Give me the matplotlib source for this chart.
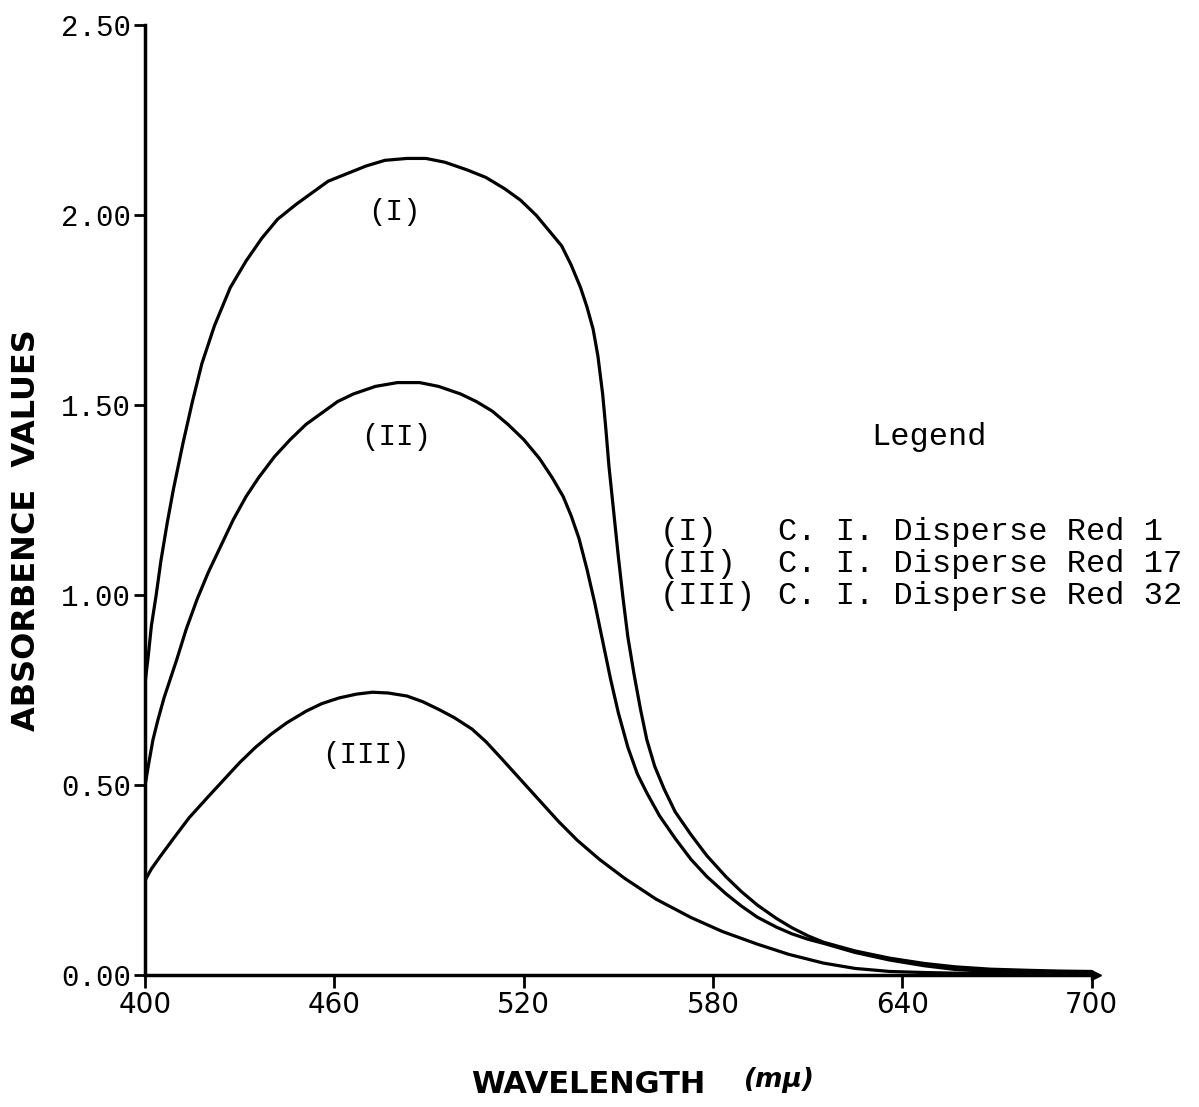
import matplotlib.pyplot as plt

# readings (wavelength in mu, absorbance)
wl_red1 = [400, 401, 402, 403.5, 405, 407, 409, 412, 415, 418, 422, 427, 432, 437,
           442, 448, 453, 458, 464, 470, 476, 483, 489, 495, 502, 508, 514, 519,
           524, 528, 532, 535, 538, 540, 542, 543.5, 545, 546, 547, 548.5, 550,
           551.5, 553, 555, 557, 559, 561.5, 564.5, 568, 573, 578, 584, 589, 594,
           600, 605, 610, 615, 625, 636, 647, 657, 668, 680, 690, 700]
abs_red1 = [0.77, 0.84, 0.92, 1.00, 1.09, 1.19, 1.28, 1.40, 1.51, 1.61, 1.71, 1.81, 1.88, 1.94,
            1.99, 2.03, 2.06, 2.09, 2.11, 2.13, 2.145, 2.15, 2.15, 2.14, 2.12, 2.10, 2.07, 2.04,
            2.00, 1.96, 1.92, 1.87, 1.81, 1.76, 1.70, 1.63, 1.53, 1.44, 1.34, 1.22, 1.10,
            0.99, 0.89, 0.79, 0.70, 0.62, 0.55, 0.49, 0.43, 0.37, 0.315, 0.26, 0.22, 0.185,
            0.15, 0.125, 0.104, 0.087, 0.064, 0.045, 0.031, 0.022, 0.016, 0.013, 0.011, 0.01]

wl_red17 = [400, 401, 402.5, 404, 406, 408, 410, 413, 416.5, 420, 424, 428, 432, 436,
            441, 446, 451, 456, 461, 466, 473, 480, 487, 493, 500, 505, 510, 515,
            520, 525, 529, 532.5, 535, 537.5, 540, 542.5, 545, 547.5, 550, 553, 556,
            559, 563, 568, 573, 578, 584, 589, 594, 600, 605, 610, 615, 625, 636,
            647, 657, 668, 680, 700]
abs_red17 = [0.50, 0.55, 0.62, 0.67, 0.73, 0.78, 0.83, 0.91, 0.99, 1.06, 1.13, 1.20, 1.26, 1.31,
             1.365, 1.41, 1.45, 1.48, 1.51, 1.53, 1.55, 1.56, 1.56, 1.55, 1.53, 1.51, 1.485, 1.45,
             1.41, 1.36, 1.31, 1.26, 1.21, 1.15, 1.07, 0.98, 0.88, 0.78, 0.69, 0.60, 0.53,
             0.48, 0.42, 0.36, 0.305, 0.26, 0.215, 0.182, 0.153, 0.127, 0.109, 0.095, 0.084, 0.06, 0.04,
             0.025, 0.015, 0.01, 0.008, 0.006]

wl_red32 = [400, 402, 405, 409, 414, 420, 425, 430, 435, 440, 445, 451, 456, 461.5,
            467, 472, 477, 483, 488, 493, 498, 503.6, 508, 513, 519, 525, 531, 537,
            544, 552, 562, 573, 583, 594, 604, 615, 625, 636, 648, 660, 700]
abs_red32 = [0.25, 0.28, 0.315, 0.36, 0.415, 0.47, 0.515, 0.56, 0.60, 0.635, 0.665, 0.695, 0.715, 0.73,
             0.74, 0.745, 0.743, 0.735, 0.72, 0.70, 0.678, 0.648, 0.615, 0.57, 0.515, 0.46, 0.405, 0.355,
             0.305, 0.255, 0.2, 0.152, 0.115, 0.082, 0.055, 0.032, 0.018, 0.01, 0.007, 0.005, 0.003]

x_ticks = [400, 460, 520, 580, 640, 700]
y_ticks = [0.0, 0.5, 1.0, 1.5, 2.0, 2.5]
curve_tags = ['(I)', '(II)', '(III)']
dye_names = ['C. I. Disperse Red 1', 'C. I. Disperse Red 17', 'C. I. Disperse Red 32']

mono = 'Liberation Mono'

fig = plt.figure(figsize=(11.99, 11.07), dpi=100)
ax = fig.add_axes([0.121, 0.119, 0.7935, 0.858])

for wl, ab in [(wl_red1, abs_red1), (wl_red17, abs_red17), (wl_red32, abs_red32)]:
    ax.plot(wl, ab, color='black', lw=2.3, solid_capstyle='round', solid_joinstyle='round')

ax.set_xlim(400, 701.5)
ax.set_ylim(0, 2.5)
for s in ['top', 'right']:
    ax.spines[s].set_visible(False)
for s in ['left', 'bottom']:
    ax.spines[s].set_linewidth(2.5)
# little arrow head at the end of the wavelength axis
ax.plot([1.0], [0.0], marker='>', ms=7, color='black', transform=ax.transAxes, clip_on=False)

ax.set_xticks(x_ticks)
ax.set_xticklabels([str(t) for t in x_ticks], fontsize=20, family='DejaVu Sans')
ax.set_yticks(y_ticks)
ax.set_yticklabels(['%.2f' % t for t in y_ticks], fontsize=21, family=mono)
ax.tick_params(axis='x', direction='out', length=9, width=2, pad=2)
ax.tick_params(axis='y', direction='out', length=8, width=2, pad=2)

# labels on the curves
ax.text(479, 2.01, curve_tags[0], fontsize=21, family=mono, ha='center', va='center')
ax.text(479.5, 1.416, curve_tags[1], fontsize=21, family=mono, ha='center', va='center')
ax.text(470, 0.58, curve_tags[2], fontsize=21, family=mono, ha='center', va='center')

# typed legend block
ax.text(648.5, 1.416, 'Legend', fontsize=23, family=mono, ha='center', va='center')
for i in range(3):
    yy = 1.166 - i * 0.084
    ax.text(563, yy, curve_tags[i], fontsize=23, family=mono, ha='left', va='center')
    ax.text(600.5, yy, dye_names[i], fontsize=23, family=mono, ha='left', va='center')

fig.text(0.0225, 0.521, 'ABSORBENCE  VALUES', rotation=90, fontsize=23, weight='bold',
         ha='center', va='center', family='DejaVu Sans')
fig.text(0.491, 0.02, 'WAVELENGTH', fontsize=22, weight='bold', ha='center', va='center',
         family='DejaVu Sans')
fig.text(0.65, 0.024, '(mμ)', fontsize=19, ha='center', va='center',
         family='DejaVu Sans', style='italic', weight='bold')

fig.savefig('out.png', dpi=100)
